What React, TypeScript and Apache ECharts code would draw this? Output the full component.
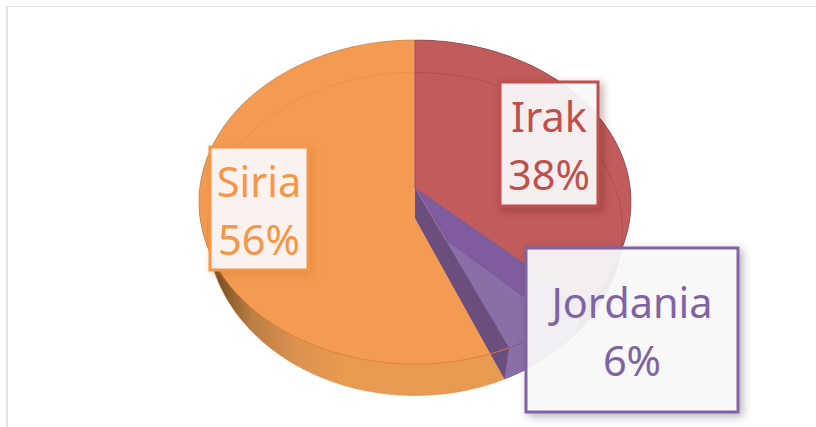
import React, { useEffect, useRef } from "react";
import * as echarts from "echarts";

const categories = ["Irak", "Jordania", "Siria"];
const shares = [38, 6, 56];

const FACE_COLORS = ["#C25C5C", "#7F5C9E", "#F39B53"];
const TEXT_COLORS = ["#C0504D", "#8064A2", "#F79646"];
const SHADOW_COLORS = ["rgba(90,25,25,0.4)", "rgba(60,45,80,0.4)", "rgba(200,105,30,0.35)"];
const LABEL_BOXES = [
  { x: 500, y: 82, w: 98, h: 124 },
  { x: 526, y: 248, w: 212, h: 164 },
  { x: 210, y: 147, w: 98, h: 123 },
];

const total = shares.reduce((a, b) => a + b, 0);
const rad = (f: number) => f * Math.PI * 2;
const startOf = (i: number) => shares.slice(0, i).reduce((a, b) => a + b, 0) / total;
const endOf = (i: number) => startOf(i + 1);

type Pt = [number, number];

// Perspective view: the hub shifts up and angles bend a little towards the viewer's right.
function project(f: number, level: "top" | "bottom"): Pt {
  const w = f - 0.016 * Math.sin(rad(f));
  return mapDisc(Math.sin(rad(w)), -Math.cos(rad(w)), level);
}
function mapDisc(u: number, v: number, level: "top" | "bottom"): Pt {
  const cx = 415;
  const top = level === "top";
  const cy = top ? 202 : 234;
  const ry = top ? 162 : 161.5;
  const k = top ? -14 / 162 : -16 / 161.5;
  const rx = top ? 216 : 208 - 5 * v;
  const s = Math.sqrt(1 - k * k);
  const d = 1 + k * v;
  return [cx + (rx * u * s) / d, cy + (ry * (v + k)) / d];
}
function arc(a: number, b: number, level: "top" | "bottom"): Pt[] {
  const n = Math.max(2, Math.ceil((b - a) * 240));
  const pts: Pt[] = [];
  for (let i = 0; i <= n; i++) pts.push(project(a + ((b - a) * i) / n, level));
  return pts;
}
const apex = (level: "top" | "bottom") => mapDisc(0, 0, level);

const poly = (points: Pt[], style: any) => ({ type: "polygon", shape: { points }, style, silent: true });
const stroke = (points: Pt[], color: string, width: number, opacity = 1) => ({
  type: "polyline",
  shape: { points },
  style: { stroke: color, lineWidth: width, fill: "none", opacity },
  silent: true,
});

const wallGradient = {
  type: "linear",
  x: 212,
  y: 0,
  x2: 345,
  y2: 0,
  global: true,
  colorStops: [
    { offset: 0, color: "#6E4720" },
    { offset: 0.3, color: "#BC7E42" },
    { offset: 0.65, color: "#DC9250" },
    { offset: 1, color: "#E79A50" },
  ],
};

const layers: ((i: number) => any)[] = [
  // side walls
  (i) => {
    const a = startOf(i);
    const b = endOf(i);
    const fill = i === 2 ? wallGradient : i === 1 ? "#8569A8" : "#5E2E2E";
    return poly([...arc(a, b, "top"), ...arc(a, b, "bottom").reverse()], { fill });
  },
  // faces
  (i) => {
    const a = startOf(i);
    const b = endOf(i);
    return poly([apex("top"), ...arc(a, b, "top")], { fill: FACE_COLORS[i] });
  },
  // floor of the purple slice seen through its face
  (i) => {
    if (i !== 1) return null;
    return poly([apex("bottom"), ...arc(startOf(i), endOf(i), "bottom")], { fill: "#8A6EA8" });
  },
  // cut face next to the purple slice
  (i) => {
    if (i !== 1) return null;
    const e = endOf(i);
    return poly([apex("top"), apex("bottom"), project(e, "bottom"), project(e, "top")], { fill: "#6A4E7E" });
  },
  // outlines
  (i) => {
    const a = startOf(i);
    const b = endOf(i);
    const outer = ["#7E4A4F", "#6F5190", "#C08A58"][i];
    const floor = ["#A84C4C", "#7A5C9C", "#E58C48"][i];
    const seam = ["#7E4A4F", "#6F5190", "#E0782A"][i];
    const children: any[] = [stroke(arc(a, b, "bottom"), floor, 1, i === 2 ? 0.6 : 0.7)];
    const topArc = arc(a, b, "top");
    if (i === 2) {
      const lower = topArc.filter((p) => p[1] >= 265);
      const upper = topArc.filter((p) => p[1] < 265);
      children.push(stroke(lower, seam, 1, 0.9), stroke(upper, outer, 1, 0.7));
    } else {
      children.push(stroke(topArc, outer, 1, 0.6));
    }
    if (i === 0) {
      children.push(stroke([apex("top"), project(0, "top")], "#8A4F5C", 1, 0.9));
      children.push(stroke([apex("top"), project(b, "top")], "#7A4F7A", 1, 0.8));
    }
    return { type: "group", children };
  },
  // labels
  (i) => {
    const box = LABEL_BOXES[i];
    const c = TEXT_COLORS[i];
    return {
      type: "group",
      children: [
        {
          type: "rect",
          shape: { x: box.x, y: box.y, width: box.w, height: box.h },
          style: {
            fill: "rgba(252,252,253,0.9)",
            stroke: c,
            lineWidth: 3,
            shadowColor: SHADOW_COLORS[i],
            shadowBlur: 8,
            shadowOffsetX: 3,
            shadowOffsetY: 3,
          },
          silent: true,
        },
        {
          type: "text",
          silent: true,
          style: {
            text: `${categories[i]}\n${shares[i]}%`,
            x: box.x + box.w / 2,
            y: box.y + box.h / 2 + 1,
            fill: c,
            align: "center",
            verticalAlign: "middle",
            font: '41.5px "Noto Sans"',
            lineHeight: 58,
          },
        },
      ],
    };
  },
];

export default function App() {
  const ref = useRef<HTMLDivElement>(null);
  useEffect(() => {
    const chart = echarts.init(ref.current!, undefined, { renderer: "svg" });
    chart.setOption({
      animation: false,
      backgroundColor: "#ffffff",
      graphic: [
        { type: "rect", shape: { x: 6, y: 6, width: 810, height: 1 }, style: { fill: "#E2E2E2" } },
        { type: "rect", shape: { x: 6, y: 6, width: 2, height: 421 }, style: { fill: "#E2E2E2" } },
      ],
      series: layers.map((draw) => ({
        type: "custom",
        coordinateSystem: "none",
        animation: false,
        silent: true,
        data: categories.map((name, i) => ({ name, value: [shares[i]] })),
        renderItem: (params: any) => draw(params.dataIndex) || { type: "group", children: [] },
      })),
    });
    return () => chart.dispose();
  }, []);
  return (
    <div
      ref={ref}
      style={{ position: "absolute", left: 0, top: 0, width: 816, height: 427 }}
    />
  );
}
